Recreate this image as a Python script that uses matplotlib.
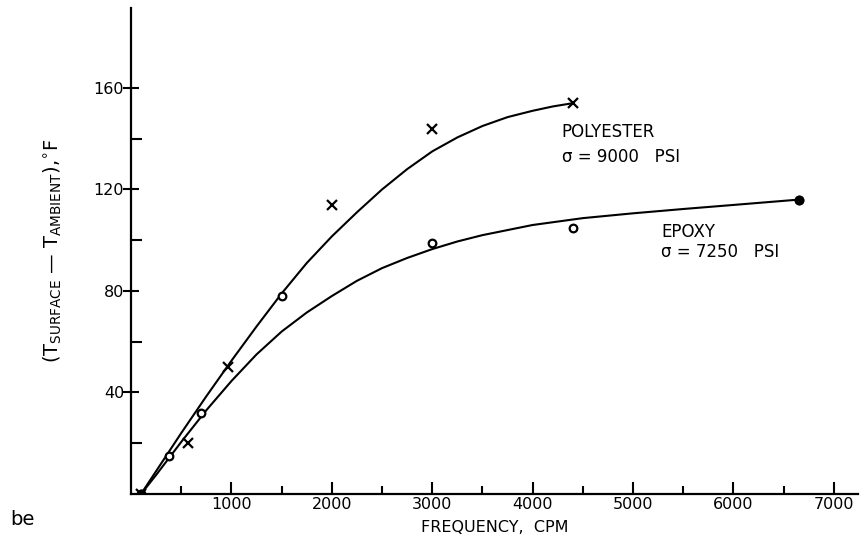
import matplotlib
matplotlib.use('Agg')
import matplotlib.pyplot as plt
from matplotlib.ticker import FixedLocator

plt.rcParams['font.family'] = 'DejaVu Sans'

# measured points
poly_freq = [100, 565, 965, 2000, 3000, 4400]
poly_temp = [0, 20, 50, 114, 144, 154]
epoxy_freq = [100, 375, 700, 1500, 3000, 4400, 6650]
epoxy_temp = [0, 15, 32, 78, 99, 105, 116]

# faired curves
poly_curve_freq = [100, 250, 500, 750, 1000, 1250, 1500, 1750, 2000, 2250, 2500,
                   2750, 3000, 3250, 3500, 3750, 4000, 4200, 4400]
poly_curve_temp = [0, 9, 24, 38.5, 52.5, 66, 79, 91, 101.5, 111, 120,
                   128, 135, 140.5, 145, 148.5, 151, 152.7, 154]
epoxy_curve_freq = [100, 250, 500, 750, 1000, 1250, 1500, 1750, 2000, 2250, 2500,
                    2750, 3000, 3250, 3500, 3750, 4000, 4500, 5000, 5500, 6000, 6650]
epoxy_curve_temp = [0, 7.5, 20.5, 33, 44.5, 55, 64, 71.5, 78, 84, 89,
                    93, 96.5, 99.5, 102, 104, 106, 108.7, 110.6, 112.3, 113.9, 116]

x_major = [1000, 2000, 3000, 4000, 5000, 6000, 7000]
x_minor = [500, 1500, 2500, 3500, 4500, 5500, 6500]
y_major = [40, 80, 120, 160]
y_minor = [20, 60, 100, 140]

fig = plt.figure(figsize=(8.6, 5.44), dpi=100)
ax = fig.add_axes([131 / 860, 50 / 544, 727 / 860, 486 / 544])

# curves
ax.plot(poly_curve_freq, poly_curve_temp, color='black', lw=1.5)
ax.plot(epoxy_curve_freq, epoxy_curve_temp, color='black', lw=1.5)

# data points
ax.plot(poly_freq, poly_temp, 'x', color='black', ms=7.5, mew=1.6)
ax.plot(epoxy_freq, epoxy_temp, 'o', color='black', mfc='white', ms=5.5, mew=1.6)
ax.plot([epoxy_freq[0], epoxy_freq[-1]], [epoxy_temp[0], epoxy_temp[-1]], 'o',
        color='black', ms=6)

ax.set_xlim(0, 7240)
ax.set_ylim(0, 191.5)

ax.spines['top'].set_visible(False)
ax.spines['right'].set_visible(False)
ax.spines['left'].set_linewidth(1.6)
ax.spines['bottom'].set_linewidth(1.6)

ax.xaxis.set_major_locator(FixedLocator(x_major))
ax.xaxis.set_minor_locator(FixedLocator(x_minor))
ax.yaxis.set_major_locator(FixedLocator(y_major))
ax.yaxis.set_minor_locator(FixedLocator(y_minor))
ax.tick_params(axis='x', which='major', direction='in', length=9, width=1.5, labelsize=11.5, pad=2)
ax.tick_params(axis='x', which='minor', direction='in', length=6, width=1.5)
ax.tick_params(axis='y', which='major', direction='inout', length=12, width=1.5, labelsize=11.5, pad=-1)
ax.tick_params(axis='y', which='minor', direction='in', length=8, width=1.5)

ax.set_xlabel('FREQUENCY,  CPM', fontsize=11.5, labelpad=6)
ax.set_ylabel(r'(T$_{\mathrm{SURFACE}}$ — T$_{\mathrm{AMBIENT}}$),$^{\circ}$F', fontsize=14)
ax.yaxis.set_label_coords(-0.092, 0.50)

ax.text(4288, 140.5, 'POLYESTER', fontsize=12, va='baseline')
ax.text(4288, 130.7, 'σ = 9000   PSI', fontsize=12, va='baseline')
ax.text(5283, 101.2, 'EPOXY', fontsize=12, va='baseline')
ax.text(5283, 93.3, 'σ = 7250   PSI', fontsize=12, va='baseline')

fig.text(0.012, 0.035, 'be', fontsize=14)

fig.savefig('out.png', dpi=100)
